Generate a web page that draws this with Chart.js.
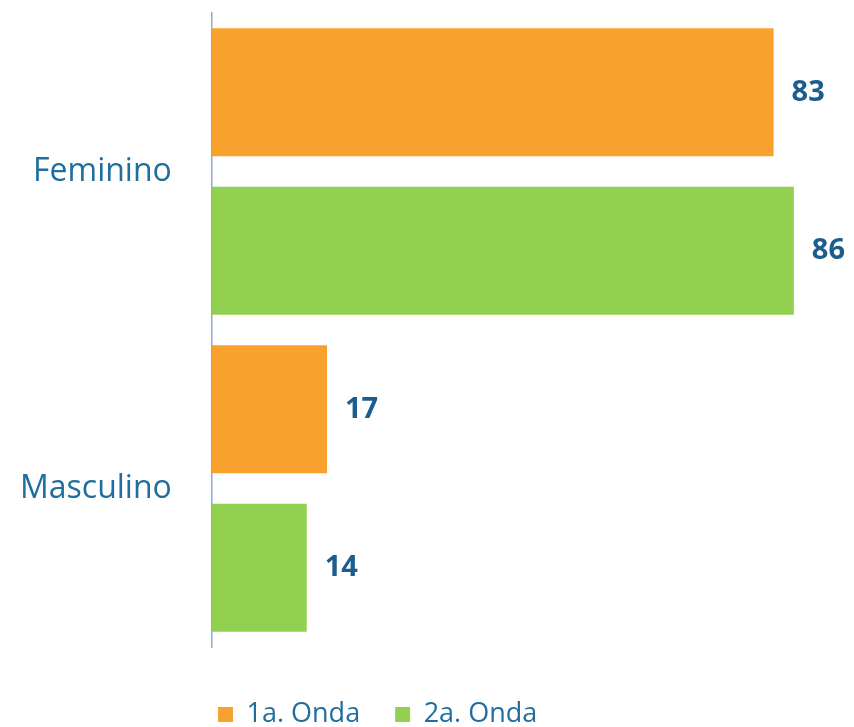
<!DOCTYPE html>
<html>
<head>
<meta charset="utf-8">
<script src="https://cdn.jsdelivr.net/npm/chart.js@4/dist/chart.umd.min.js"></script>
<style>
  html, body { margin: 0; padding: 0; background: #fff; }
  #wrap { width: 854px; height: 727px; }
</style>
</head>
<body>
<div id="wrap"><canvas id="chart" width="854" height="727"></canvas></div>
<script>
/* data */
const categories = ["Feminino", "Masculino"];
const seriesNames = ["1a. Onda", "2a. Onda"];
const onda1 = [83, 17];
const onda2 = [86, 14];

const ORANGE = "#F9A12D";
const GREEN  = "#92D050";
const BLUE   = "#1F6E9E";
const LABEL  = "#1B5E8E";

const PAD_LEFT = 183;   // legend starts near the axis

/* value labels at bar ends */
const valueLabels = {
  id: "valueLabels",
  afterDatasetsDraw(chart) {
    const ctx = chart.ctx;
    ctx.save();
    ctx.font = "bold 29px 'Open Sans'";
    ctx.fillStyle = LABEL;
    ctx.textAlign = "left";
    ctx.textBaseline = "middle";
    chart.data.datasets.forEach((ds, i) => {
      chart.getDatasetMeta(i).data.forEach((bar, j) => {
        ctx.fillText(String(ds.data[j]), bar.x + 18, bar.y);
      });
    });
    ctx.restore();
  }
};

new Chart(document.getElementById("chart"), {
  type: "bar",
  data: {
    labels: categories,
    datasets: [
      { label: seriesNames[0], data: onda1, backgroundColor: ORANGE },
      { label: seriesNames[1], data: onda2, backgroundColor: GREEN },
    ],
  },
  options: {
    indexAxis: "y",
    responsive: false,
    animation: false,
    categoryPercentage: 1.0,
    barPercentage: 0.807,
    layout: { padding: { top: 13, right: 6, left: PAD_LEFT, bottom: -11 } },
    plugins: {
      tooltip: { enabled: false },
      legend: {
        position: "bottom",
        align: "start",
        labels: {
          color: BLUE,
          font: { family: "'Open Sans'", size: 27 },
          boxWidth: 15,
          boxHeight: 15,
          padding: 35,
        },
      },
    },
    scales: {
      x: {
        min: 0,
        max: 94,
        ticks: { display: false },
        grid: { display: false, drawTicks: true, tickLength: 19 },
        border: { display: false },
      },
      y: {
        grid: { display: false, drawTicks: false },
        border: { display: true, color: "#8EA9D2", width: 1.5 },
        ticks: {
          color: BLUE,
          font: { family: "'Open Sans'", size: 32 },
          mirror: true,
          crossAlign: "far",
          padding: -192,
        },
        afterFit(scale) { scale.width = 212 - PAD_LEFT; },
      },
    },
  },
  plugins: [valueLabels],
});
</script>
</body>
</html>
